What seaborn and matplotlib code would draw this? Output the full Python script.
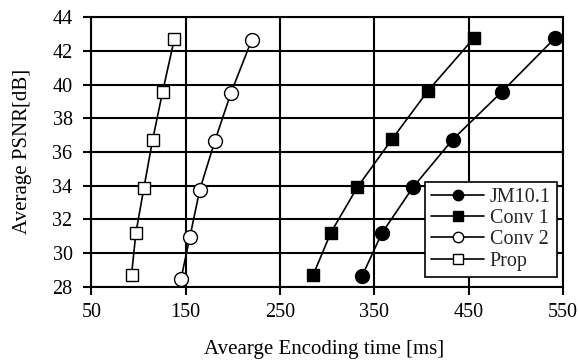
import matplotlib
matplotlib.use("Agg")
import matplotlib.pyplot as plt
import seaborn as sns
import pandas as pd

series = ["JM10.1", "Conv 1", "Conv 2", "Prop"]
psnr_jm = [42.79, 39.56, 36.73, 33.90, 31.17, 28.62]
time_jm = [542, 485, 433, 391, 358, 337]
psnr_c1 = [42.79, 39.64, 36.77, 33.90, 31.21, 28.67]
time_c1 = [456, 407, 369, 332, 304, 285]
psnr_c2 = [42.65, 39.50, 36.65, 33.76, 30.95, 28.44]
time_c2 = [220, 198, 181, 165, 154.5, 145]
psnr_pr = [42.71, 39.55, 36.73, 33.85, 31.17, 28.67]
time_pr = [138, 125.5, 115, 105.7, 97.2, 92.6]

xticks = [50, 150, 250, 350, 450, 550]
yticks = [28, 30, 32, 34, 36, 38, 40, 42, 44]

df = pd.concat([
    pd.DataFrame({"time": time_jm, "psnr": psnr_jm, "method": series[0]}),
    pd.DataFrame({"time": time_c1, "psnr": psnr_c1, "method": series[1]}),
    pd.DataFrame({"time": time_c2, "psnr": psnr_c2, "method": series[2]}),
    pd.DataFrame({"time": time_pr, "psnr": psnr_pr, "method": series[3]}),
])

sns.set_style("white")
plt.rcParams["font.family"] = ["Liberation Serif", "DejaVu Serif"]

fig = plt.figure(figsize=(5.78, 3.6), dpi=100)
ax = fig.add_axes([0.158, 0.204, 0.816, 0.748])

styles = {
    "JM10.1": dict(marker="o", mfc="black", ms=10.0),
    "Conv 1": dict(marker="s", mfc="black", ms=8.4),
    "Conv 2": dict(marker="o", mfc="white", ms=10.0),
    "Prop": dict(marker="s", mfc="white", ms=8.4),
}
for m in series:
    sub = df[df["method"] == m]
    st = styles[m]
    sns.lineplot(data=sub, x="time", y="psnr", ax=ax, sort=False, color="black",
                 linewidth=1.2, marker=st["marker"], markersize=st["ms"],
                 markerfacecolor=st["mfc"], markeredgecolor="black",
                 markeredgewidth=1.0, label=m, zorder=5)

ax.set_xlim(50, 550)
ax.set_ylim(28, 44)
ax.set_xticks(xticks)
ax.set_yticks(yticks)
ax.grid(True, color="black", linewidth=1.5)
ax.set_axisbelow(True)
for s in ax.spines.values():
    s.set_color("black")
    s.set_linewidth(1.5)
ax.tick_params(axis="both", which="both", direction="out", length=5.5, width=1.5,
               color="black", labelsize=14.5, labelcolor="black",
               bottom=True, left=True)
ax.tick_params(axis="y", pad=8)
ax.tick_params(axis="x", pad=6)
ax.set_xlabel("Avearge Encoding time [ms]", fontsize=15, color="black")
ax.set_ylabel("Average PSNR[dB]", fontsize=15, color="black")
ax.xaxis.set_label_coords(0.493, -0.2)
ax.yaxis.set_label_coords(-0.125, 0.5)

leg = ax.legend(loc="lower right", bbox_to_anchor=(0.987, 0.037), frameon=True,
                fancybox=False, edgecolor="black", framealpha=1, fontsize=14.5,
                handlelength=2.6, borderpad=0.3, labelspacing=0.1,
                handletextpad=0.3, borderaxespad=0)
leg.get_frame().set_linewidth(1.2)
leg.set_zorder(10)
for h in leg.legend_handles:
    h.set_markersize(7.5 if h.get_marker() == "o" else 6.8)

fig.savefig("out.png", dpi=100)
